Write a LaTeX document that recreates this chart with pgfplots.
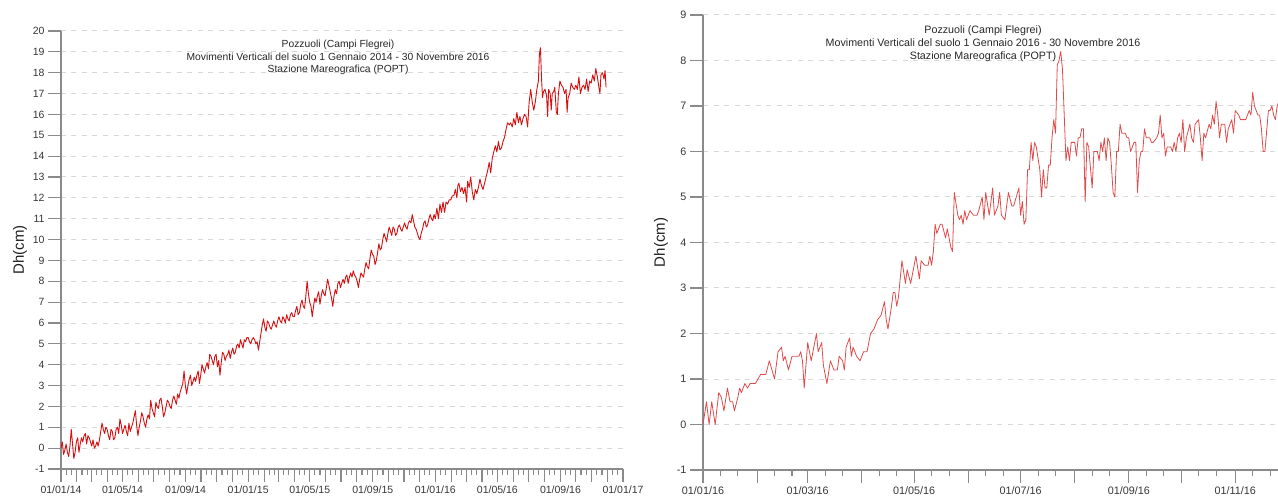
\documentclass[border=0pt]{standalone}
\usepackage{fontspec}
\setmainfont{Liberation Sans}
\usepackage{pgfplots}
\pgfplotsset{compat=1.18}
\usepackage{pgfplotstable}

\definecolor{axisgray}{HTML}{8A8A8A}
\definecolor{gridgray}{HTML}{D8D8D8}
\definecolor{labelgray}{HTML}{363636}
\definecolor{trendred}{HTML}{D61010}
\definecolor{dailyred}{HTML}{E04A4A}

% Vertical ground displacement, POPT tide gauge: day since 1 Jan 2014, Dh (cm)
\pgfplotstableread{
day dh
0 0.0
2.5 0.3
5 -0.3
7.5 -0.1
10 0.2
12.5 -0.2
15 -0.4
17.5 0.1
20 0.9
22.5 0.2
25 -0.5
27.5 -0.2
30 0.3
32.5 0.5
35 -0.2
37.5 0.2
40 0.5
42.5 0.3
45 0.6
47.5 0.7
50 0.2
52.5 0.6
55 0.5
57.5 0.3
60 0.1
62.5 0.4
65 0.0
67.5 0.1
70 0.3
72.5 0.1
75 0.4
77.5 0.8
80 1.2
82.5 0.9
85 0.7
87.5 1.0
90 0.9
92.5 0.6
95 0.4
97.5 0.9
100 0.8
102.5 0.4
105 0.5
107.5 0.9
110 1.0
112.5 0.7
115 1.4
117.5 1.1
120 0.7
122.5 0.9
125 1.1
127.5 0.8
130 0.6
132.5 1.2
135 0.8
137.5 1.0
140 1.2
142.5 1.5
145 1.8
147.5 1.1
150 0.6
152.5 1.0
155 1.3
157.5 1.7
160 1.5
162.5 1.2
165 1.0
167.5 1.4
170 1.6
172.5 1.4
175 2.3
177.5 1.9
180 1.7
182.5 1.5
185 2.2
187.5 2.0
190 1.9
192.5 2.3
195 2.4
197.5 2.0
200 1.5
202.5 1.7
205 2.0
207.5 2.3
210 2.2
212.5 2.0
215 1.9
217.5 2.3
220 2.5
222.5 2.3
225 2.1
227.5 2.6
230 2.4
232.5 2.7
235 2.9
237.5 3.1
240 3.7
242.5 3.0
245 2.6
247.5 3.0
250 3.3
252.5 3.5
255 3.0
257.5 3.2
260 3.4
262.5 3.2
265 3.5
267.5 3.7
270 3.1
272.5 3.5
275 4.0
277.5 3.8
280 3.6
282.5 3.9
285 4.1
287.5 3.8
290 4.5
292.5 4.4
295 4.2
297.5 4.0
300 4.4
302.5 4.5
305 3.9
307.5 4.2
310 3.5
312.5 4.1
315 4.6
317.5 4.5
320 4.2
322.5 4.4
325 4.5
327.5 4.7
330 4.3
332.5 4.6
335 4.8
337.5 4.5
340 4.6
342.5 4.9
345 5.0
347.5 4.8
350 5.2
352.5 5.0
355 4.8
357.5 5.2
360 5.1
362.5 5.3
365 5.3
367.5 5.1
370 5.0
372.5 5.2
375 5.3
377.5 5.2
380 5.0
382.5 5.1
385 4.7
387.5 5.1
390 5.5
392.5 5.9
395 6.2
397.5 5.8
400 5.6
402.5 6.1
405 6.0
407.5 5.8
410 5.7
412.5 5.9
415 6.1
417.5 5.9
420 5.8
422.5 6.1
425 6.3
427.5 6.1
430 6.0
432.5 6.3
435 6.2
437.5 6.0
440 6.4
442.5 6.2
445 6.1
447.5 6.4
450 6.5
452.5 6.3
455 6.3
457.5 6.6
460 6.8
462.5 6.4
465 6.5
467.5 6.9
470 7.1
472.5 6.8
475 6.7
477.5 7.3
480 8.0
482.5 7.4
485 7.0
487.5 6.8
490 6.3
492.5 6.8
495 7.2
497.5 7.0
500 7.3
502.5 7.5
505 6.9
507.5 7.3
510 7.6
512.5 7.4
515 7.3
517.5 7.7
520 8.1
522.5 7.8
525 7.5
527.5 7.2
530 6.8
532.5 7.3
535 7.6
537.5 7.4
540 7.9
542.5 8.0
545 7.7
547.5 7.9
550 8.1
552.5 7.9
555 8.2
557.5 8.3
560 7.9
562.5 8.2
565 8.4
567.5 8.2
570 8.5
572.5 8.3
575 8.2
577.5 8.0
580 7.7
582.5 8.1
585 8.4
587.5 8.3
590 8.2
592.5 8.6
595 8.9
597.5 8.7
600 8.6
602.5 9.1
605 9.5
607.5 9.3
610 9.2
612.5 8.8
615 9.0
617.5 9.4
620 9.8
622.5 9.5
625 9.6
627.5 10.0
630 10.3
632.5 10.1
635 9.9
637.5 10.3
640 10.6
642.5 10.4
645 10.2
647.5 10.6
650 10.5
652.5 10.2
655 10.3
657.5 10.6
660 10.7
662.5 10.5
665 10.4
667.5 10.6
670 10.8
672.5 10.6
675 10.5
677.5 10.8
680 10.9
682.5 10.8
685 11.2
687.5 10.9
690 10.6
692.5 10.5
695 10.3
697.5 10.1
700 10.0
702.5 10.3
705 10.5
707.5 10.8
710 10.9
712.5 10.6
715 10.7
717.5 11.0
720 11.2
722.5 11.0
725 10.9
727.5 11.2
730 11.0
733 11.5
736 11.0
739 11.7
742 11.3
745 11.8
748 11.3
751 11.8
754 11.7
757 11.9
760 11.9
763 12.1
766 12.1
769 12.4
772 12.0
774 12.6
776 12.7
779 12.3
782 12.5
785 12.2
788 12.5
791 11.8
793 12.8
796 12.5
799 13.0
802 12.3
805 11.9
808 12.4
811 12.2
814 12.5
817 12.9
820 12.6
823 12.4
826 12.7
829 13.0
832 13.3
835 13.7
838 13.2
841 13.9
844 14.2
847 14.5
850 14.2
853 14.7
856 14.3
859 14.4
862 14.7
865 14.9
868 15.3
871 15.6
874 15.5
877 15.6
880 15.4
883 15.8
886 15.5
889 16.1
892 15.6
895 15.9
898 15.5
901 15.8
904 16.0
907 15.9
910 15.4
913 16.6
916 17.2
919 16.6
922 16.2
925 16.6
928 17.2
931 17.6
933 18.9
935 19.2
937 17.8
939 16.8
941 17.1
944 17.2
947 16.9
949 15.9
951 17.2
954 17.0
956 16.2
958 17.0
961 17.1
963 17.3
966 16.1
968 16.0
970 17.0
973 17.6
976 17.4
979 17.3
982 17.0
985 17.2
987 16.1
989 16.8
992 17.0
995 17.5
998 17.3
1001 17.2
1004 17.4
1007 17.2
1010 17.8
1013 17.0
1016 17.3
1019 17.4
1022 17.2
1025 17.7
1028 17.1
1031 17.6
1034 17.5
1037 17.9
1040 17.6
1043 18.2
1046 17.8
1049 17.3
1051 17.0
1053 17.9
1056 18.0
1059 17.7
1061 18.1
1063 17.3
}\longseries

% Same station, 2016 only: day since 1 Jan 2016, Dh (cm)
\pgfplotstableread{
day dh
0 0.0
2 0.5
3.5 0.0
5 0.5
7 0.0
9 0.7
10.5 0.6
12 0.3
14 0.8
15.5 0.5
17 0.5
18 0.3
20 0.6
21 0.8
22 0.7
24 0.9
25.5 0.8
27 0.9
30 0.9
33 1.1
36 1.1
38 1.4
41 1.0
43 1.6
45 1.7
46 1.4
47 1.5
49 1.2
51 1.5
55 1.5
56 1.6
57 1.4
58 0.8
60 1.8
62 1.4
63 1.6
65 2.0
66 1.6
68 1.8
69 1.3
71 0.9
73 1.4
75 1.2
77 1.2
78 1.5
80 1.4
81 1.2
82 1.7
84 1.9
85 1.5
86 1.7
88 1.5
90 1.4
92 1.6
94 1.6
96 2.0
98 2.1
100 2.3
102 2.4
104 2.7
105 2.3
106 2.1
108 2.6
109 2.9
110 2.9
111 2.6
112 2.8
113 3.2
114 3.6
116 3.1
117 3.4
119 3.1
122 3.7
124 3.2
125 3.6
127 3.5
129 3.5
130 3.7
131 3.5
132 3.8
133 4.4
134 4.2
136 4.4
137 4.4
139 4.1
140 4.3
142 3.9
143 3.8
144 5.1
146 4.6
147 4.5
148 4.6
149 4.4
150 4.7
151 4.5
153 4.7
155 4.6
157 4.6
158 4.7
160 5.0
161 4.5
162 5.1
164 4.6
166 5.2
167 4.6
169 4.8
170 5.1
171 4.6
173 4.5
174 4.8
175 5.1
177 4.8
178 4.8
181 5.2
182 4.6
183 4.9
184 4.4
185 4.5
186 5.6
187 5.6
188 6.2
189 5.8
190 6.2
191 6.1
193 5.6
194 5.0
195 5.6
196 5.2
197 5.2
198 5.7
199 5.7
200 6.3
201 6.7
202 6.4
203 7.9
204 8.0
205 8.2
206 7.8
207 6.8
208 5.8
209 6.1
210 5.8
211 6.2
213 6.2
214 5.9
215 6.3
216 6.3
217 6.5
218 6.5
219 4.9
220 6.2
221 6.1
223 5.2
224 6.0
226 6.0
227 5.8
228 6.2
229 6.0
230 6.3
231 5.8
232 6.3
233 6.2
234 5.7
235 5.1
236 5.0
237 6.0
238 6.0
239 6.6
240 6.4
242 6.4
243 6.3
244 6.3
245 6.0
247 6.2
248 6.2
249 5.1
250 5.8
251 6.0
252 6.0
253 6.5
254 6.3
256 6.3
257 6.2
258 6.2
260 6.3
261 6.4
262 6.8
263 6.3
264 6.4
265 5.9
266 6.1
268 6.1
269 6.0
270 6.2
271 6.0
272 6.3
273 6.4
274 6.2
275 6.7
276 6.0
277 6.3
279 6.6
280 6.3
281 6.2
282 6.6
284 6.7
285 6.3
286 5.8
287 6.4
288 6.3
290 6.6
291 6.5
292 6.8
293 6.6
294 7.1
295 6.8
296 6.3
297 6.6
299 6.6
300 6.2
301 6.5
303 6.7
304 6.4
305 6.9
307 6.8
308 6.7
310 6.7
311 6.7
313 6.9
314 6.8
315 7.3
316 7.0
318 6.8
319 6.8
320 6.5
321 6.0
322 6.0
324 6.9
325 6.9
326 7.0
327 6.8
328 6.7
329 7.0
330 7.1
}\shortseries

\pgfplotsset{
  dhaxis/.style={
    scale only axis,
    anchor=south west,
    axis x line=bottom,
    axis y line=left,
    axis line style={-, draw=axisgray, line width=1.3pt},
    tick align=outside,
    tick style={draw=axisgray, line width=1.1pt},
    major tick length=13pt,
    minor tick length=5.5pt,
    ymajorgrids,
    grid style={draw=gridgray, line width=1pt, dash pattern=on 5pt off 5.5pt},
    /pgf/number format/assume math mode=true,
    ytick distance=1,
    extra x tick labels={},
    extra x tick style={grid=none},
    ylabel={Dh(cm)},
    ylabel style={at={(axis description cs:-0.073,0.5)}, anchor=center,
      font=\fontsize{15}{18}\selectfont, text=black!88},
    title style={anchor=north, align=center, inner sep=0pt, yshift=0pt, text=black!85},
    clip=true,
  }
}

\begin{document}
\begin{tikzpicture}
\path[use as bounding box] (0pt,0pt) rectangle (1278pt,499pt);

% 2014-2016 overview
\begin{axis}[dhaxis,
  at={(61pt,30pt)}, width=562pt, height=438pt,
  xmin=0, xmax=1096, ymin=-1, ymax=20,
  ticklabel style={font=\fontsize{10.5}{12}\selectfont, text=labelgray},
  xtick={0,120,243,365,485,608,730,851,974,1096},
  xticklabels={01/01/14,01/05/14,01/09/14,01/01/15,01/05/15,01/09/15,01/01/16,01/05/16,01/09/16,01/01/17},
  extra x ticks={31,59,90,151,181,212,273,304,334,396,424,455,516,546,577,638,669,699,761,790,821,882,912,943,1004,1035,1065},
  minor xtick={10,20,41,51,69,79,100,110,130,140,161,171,191,201,222,232,253,263,283,293,314,324,344,354,
    375,385,406,416,434,444,465,475,495,505,526,536,556,566,587,597,618,628,648,658,679,689,709,719,
    740,750,771,781,800,810,831,841,861,871,892,902,922,932,953,963,984,994,1014,1024,1045,1055,1075,1085},
  title={Pozzuoli (Campi Flegrei)\\Movimenti Verticali del suolo 1 Gennaio 2014 - 30 Novembre 2016\\Stazione Mareografica (POPT)},
  title style={at={(axis description cs:0.493,0.966)}, font=\fontsize{10.3}{12.7}\selectfont},
]
\addplot[trendred, line width=0.9pt, line join=round] table[x=day, y=dh] {\longseries};
\end{axis}

% 2016 detail
\begin{axis}[dhaxis,
  at={(703pt,29pt)}, width=575pt, height=455pt,
  xmin=0, xmax=329.5, ymin=-1, ymax=9,
  ticklabel style={font=\fontsize{10.8}{12}\selectfont, text=labelgray},
  xtick={0,60,121,182,244,305},
  xticklabels={01/01/16,01/03/16,01/05/16,01/07/16,01/09/16,01/11/16},
  extra x ticks={31,91,152,213,274},
  minor xtick={10,20,41,51,70,80,101,111,131,141,162,172,192,202,223,233,254,264,284,294,315,325},
  title={Pozzuoli (Campi Flegrei)\\Movimenti Verticali del suolo 1 Gennaio 2016 - 30 Novembre 2016\\Stazione Mareografica (POPT)},
  title style={at={(axis description cs:0.487,0.963)}, font=\fontsize{10.7}{12.7}\selectfont},
]
\addplot[dailyred, line width=0.8pt, line join=round] table[x=day, y=dh] {\shortseries};
\end{axis}
\end{tikzpicture}
\end{document}
